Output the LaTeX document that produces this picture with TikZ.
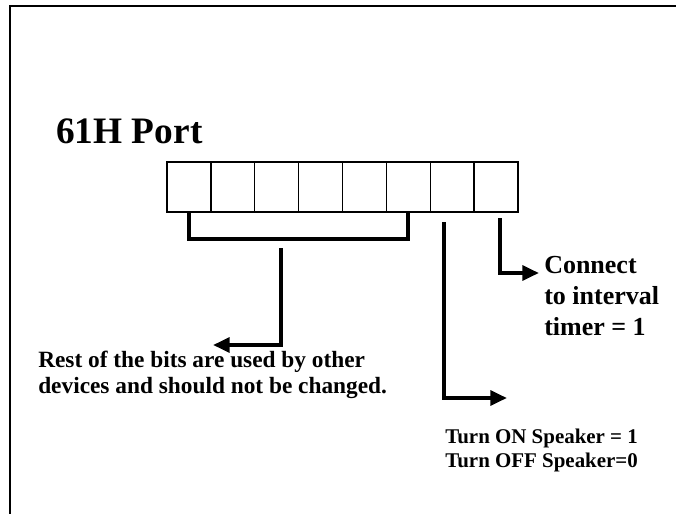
\documentclass[tikz,border=0pt]{standalone}
\usepackage{fontspec}
\setmainfont{Liberation Serif}
\usetikzlibrary{arrows.meta}
\begin{document}
\begin{tikzpicture}[x=0.75pt,y=-0.75pt,
  cell/.style={draw=black,line width=1pt,minimum width=32.9pt,minimum height=37.5pt,inner sep=0pt,outer sep=0pt},
  thick line/.style={line width=3pt},
  arr/.style={line width=3pt,-{Triangle[length=12.5pt,width=11pt]}},
  lbl/.style={font=\bfseries,inner sep=0pt,align=left}]
\useasboundingbox (0,0) rectangle (676,514);
% frame
\draw[line width=1.6pt] (10,520) -- (10,6) -- (690,6);
% title
\node[lbl,font=\fontsize{28}{30}\selectfont\bfseries,anchor=base west] (title) at (56,143) {61H Port};
% cells
\foreach \i in {1,...,8}{
  \node[cell] (c\i) at ({167+(\i-0.5)*43.875},187) {};
}
\draw[line width=1.6pt] (c1.north west) rectangle (c8.south east);
% bracket
\coordinate (b1) at (c1.center |- 0,239);
\coordinate (b6) at (c6.center |- 0,239);
\draw[thick line] (c1.center |- 0,212) -- (b1) -- (b6) -- (c6.center |- 0,212);
\coordinate (d0) at (281,248);
\coordinate (d1) at (281,345);
\coordinate (d2) at (213,345);
\draw[arr] (d0) -- (d1) -- (d2);
% speaker
\coordinate (s0) at (444,222);
\coordinate (s1) at (444,398);
\coordinate (s2) at (507,398);
\draw[arr] (s0) -- (s1) -- (s2);
% timer
\coordinate (t0) at (500,218);
\coordinate (t1) at (500,273);
\coordinate (t2) at (539,273);
\draw[arr] (t0) -- (t1) -- (t2);
% labels
\node[lbl,font=\fontsize{19.5}{23.2}\selectfont\bfseries,anchor=base west] (conn) at (544,335) {Connect\\to interval\\timer = 1};
\node[lbl,font=\fontsize{17.5}{18.8}\selectfont\bfseries,anchor=base west] (rest) at (38,393) {Rest of the bits are used by other\\devices and should not be changed.};
\node[lbl,font=\fontsize{15.7}{18}\selectfont\bfseries,anchor=base west] (spk) at (445,467) {Turn ON Speaker = 1\\Turn OFF Speaker=0};
\end{tikzpicture}
\end{document}
